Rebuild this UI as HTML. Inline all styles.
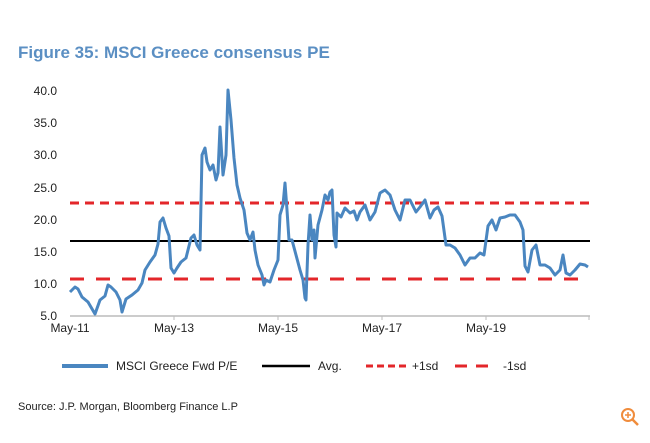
<!DOCTYPE html><html><head><style>body{margin:0;background:#fff;width:650px;height:438px;overflow:hidden;font-family:"Liberation Sans",Arial,sans-serif}</style></head><body>
<svg width="650" height="438" xmlns="http://www.w3.org/2000/svg" font-family="Liberation Sans,Arial,sans-serif">
<text x="18" y="58" font-size="17" font-weight="bold" fill="#5b8fc3">Figure 35: MSCI Greece consensus PE</text>
<g font-size="12" fill="#222" text-anchor="end">
<text x="57" y="95">40.0</text><text x="57" y="127">35.0</text><text x="57" y="159">30.0</text><text x="57" y="192">25.0</text><text x="57" y="224">20.0</text><text x="57" y="256">15.0</text><text x="57" y="288">10.0</text><text x="57" y="320">5.0</text></g>
<line x1="70" y1="316" x2="590" y2="316" stroke="#bbb" stroke-width="1.5"/>
<g stroke="#bbb"><line x1="174" y1="316" x2="174" y2="320"/><line x1="278" y1="316" x2="278" y2="320"/><line x1="382" y1="316" x2="382" y2="320"/><line x1="486" y1="316" x2="486" y2="320"/><line x1="589" y1="316" x2="589" y2="320"/></g>
<g font-size="12" fill="#222" text-anchor="middle"><text x="70" y="332">May-11</text><text x="174" y="332">May-13</text><text x="278" y="332">May-15</text><text x="382" y="332">May-17</text><text x="486" y="332">May-19</text></g>
<line x1="70" y1="203" x2="590" y2="203" stroke="#e3262a" stroke-width="3" stroke-dasharray="9,6"/>
<line x1="70" y1="279" x2="590" y2="279" stroke="#e3262a" stroke-width="3" stroke-dasharray="14,12"/>
<line x1="70" y1="241" x2="590" y2="241" stroke="#000" stroke-width="2"/>
<polyline fill="none" stroke="#4a86c0" stroke-width="3" stroke-linejoin="round" points="70,292 75,287 78,289 82,297 88,302 95,314 100,300 105,296 108,285 111,287 116,292 120,300 122,312 126,299 132,295 138,290 142,283 145,270 150,262 155,255 158,244 160,222 163,218 166,228 169,236 171,268 174,273 177,268 181,262 186,258 191,238 194,235 197,245 200,250 202,155 205,148 207,162 210,170 213,165 216,180 218,173 220,127 223,175 226,155 228,90 231,120 234,158 237,185 240,198 244,210 247,233 250,240 253,232 255,250 258,265 262,275 264,285 266,280 270,282 274,270 278,260 280,215 283,205 285,183 287,210 289,240 292,240 296,255 300,270 303,280 305,298 306,300 308,245 310,215 312,240 314,230 315,258 318,225 322,210 325,195 328,200 330,192 332,190 334,235 336,247 337,213 341,217 345,208 350,213 354,211 357,220 360,212 365,205 370,220 375,212 380,193 385,190 390,195 395,210 400,220 405,200 410,200 416,212 420,207 425,200 430,218 434,210 438,207 442,216 446,245 450,245 455,248 460,255 465,265 470,258 475,258 480,253 484,255 488,226 492,220 496,230 500,218 505,217 510,215 515,215 520,222 523,230 525,266 528,272 532,250 536,245 540,265 545,265 550,268 555,275 560,270 563,255 566,273 570,275 575,270 580,264 585,265 588,267"/>
<line x1="62" y1="366" x2="108" y2="366" stroke="#4a86c0" stroke-width="4"/>
<text x="116" y="370" font-size="12" fill="#222">MSCI Greece Fwd P/E</text>
<line x1="262" y1="366" x2="310" y2="366" stroke="#000" stroke-width="2.5"/>
<text x="318" y="370" font-size="12" fill="#222">Avg.</text>
<line x1="366" y1="366" x2="406" y2="366" stroke="#e3262a" stroke-width="3" stroke-dasharray="7,4"/>
<text x="412" y="370" font-size="12" fill="#222">+1sd</text>
<line x1="455" y1="366" x2="497" y2="366" stroke="#e3262a" stroke-width="3" stroke-dasharray="12,9"/>
<text x="503" y="370" font-size="12" fill="#222">-1sd</text>
<text x="18" y="410" font-size="11" fill="#222">Source: J.P. Morgan, Bloomberg Finance L.P</text>
<circle cx="628" cy="415" r="6" fill="none" stroke="#f08c3c" stroke-width="2"/>
<line x1="632" y1="419" x2="638" y2="425" stroke="#f08c3c" stroke-width="2.5"/>
<line x1="625" y1="415" x2="631" y2="415" stroke="#f08c3c" stroke-width="1.5"/>
<line x1="628" y1="412" x2="628" y2="418" stroke="#f08c3c" stroke-width="1.5"/>
</svg></body></html>
